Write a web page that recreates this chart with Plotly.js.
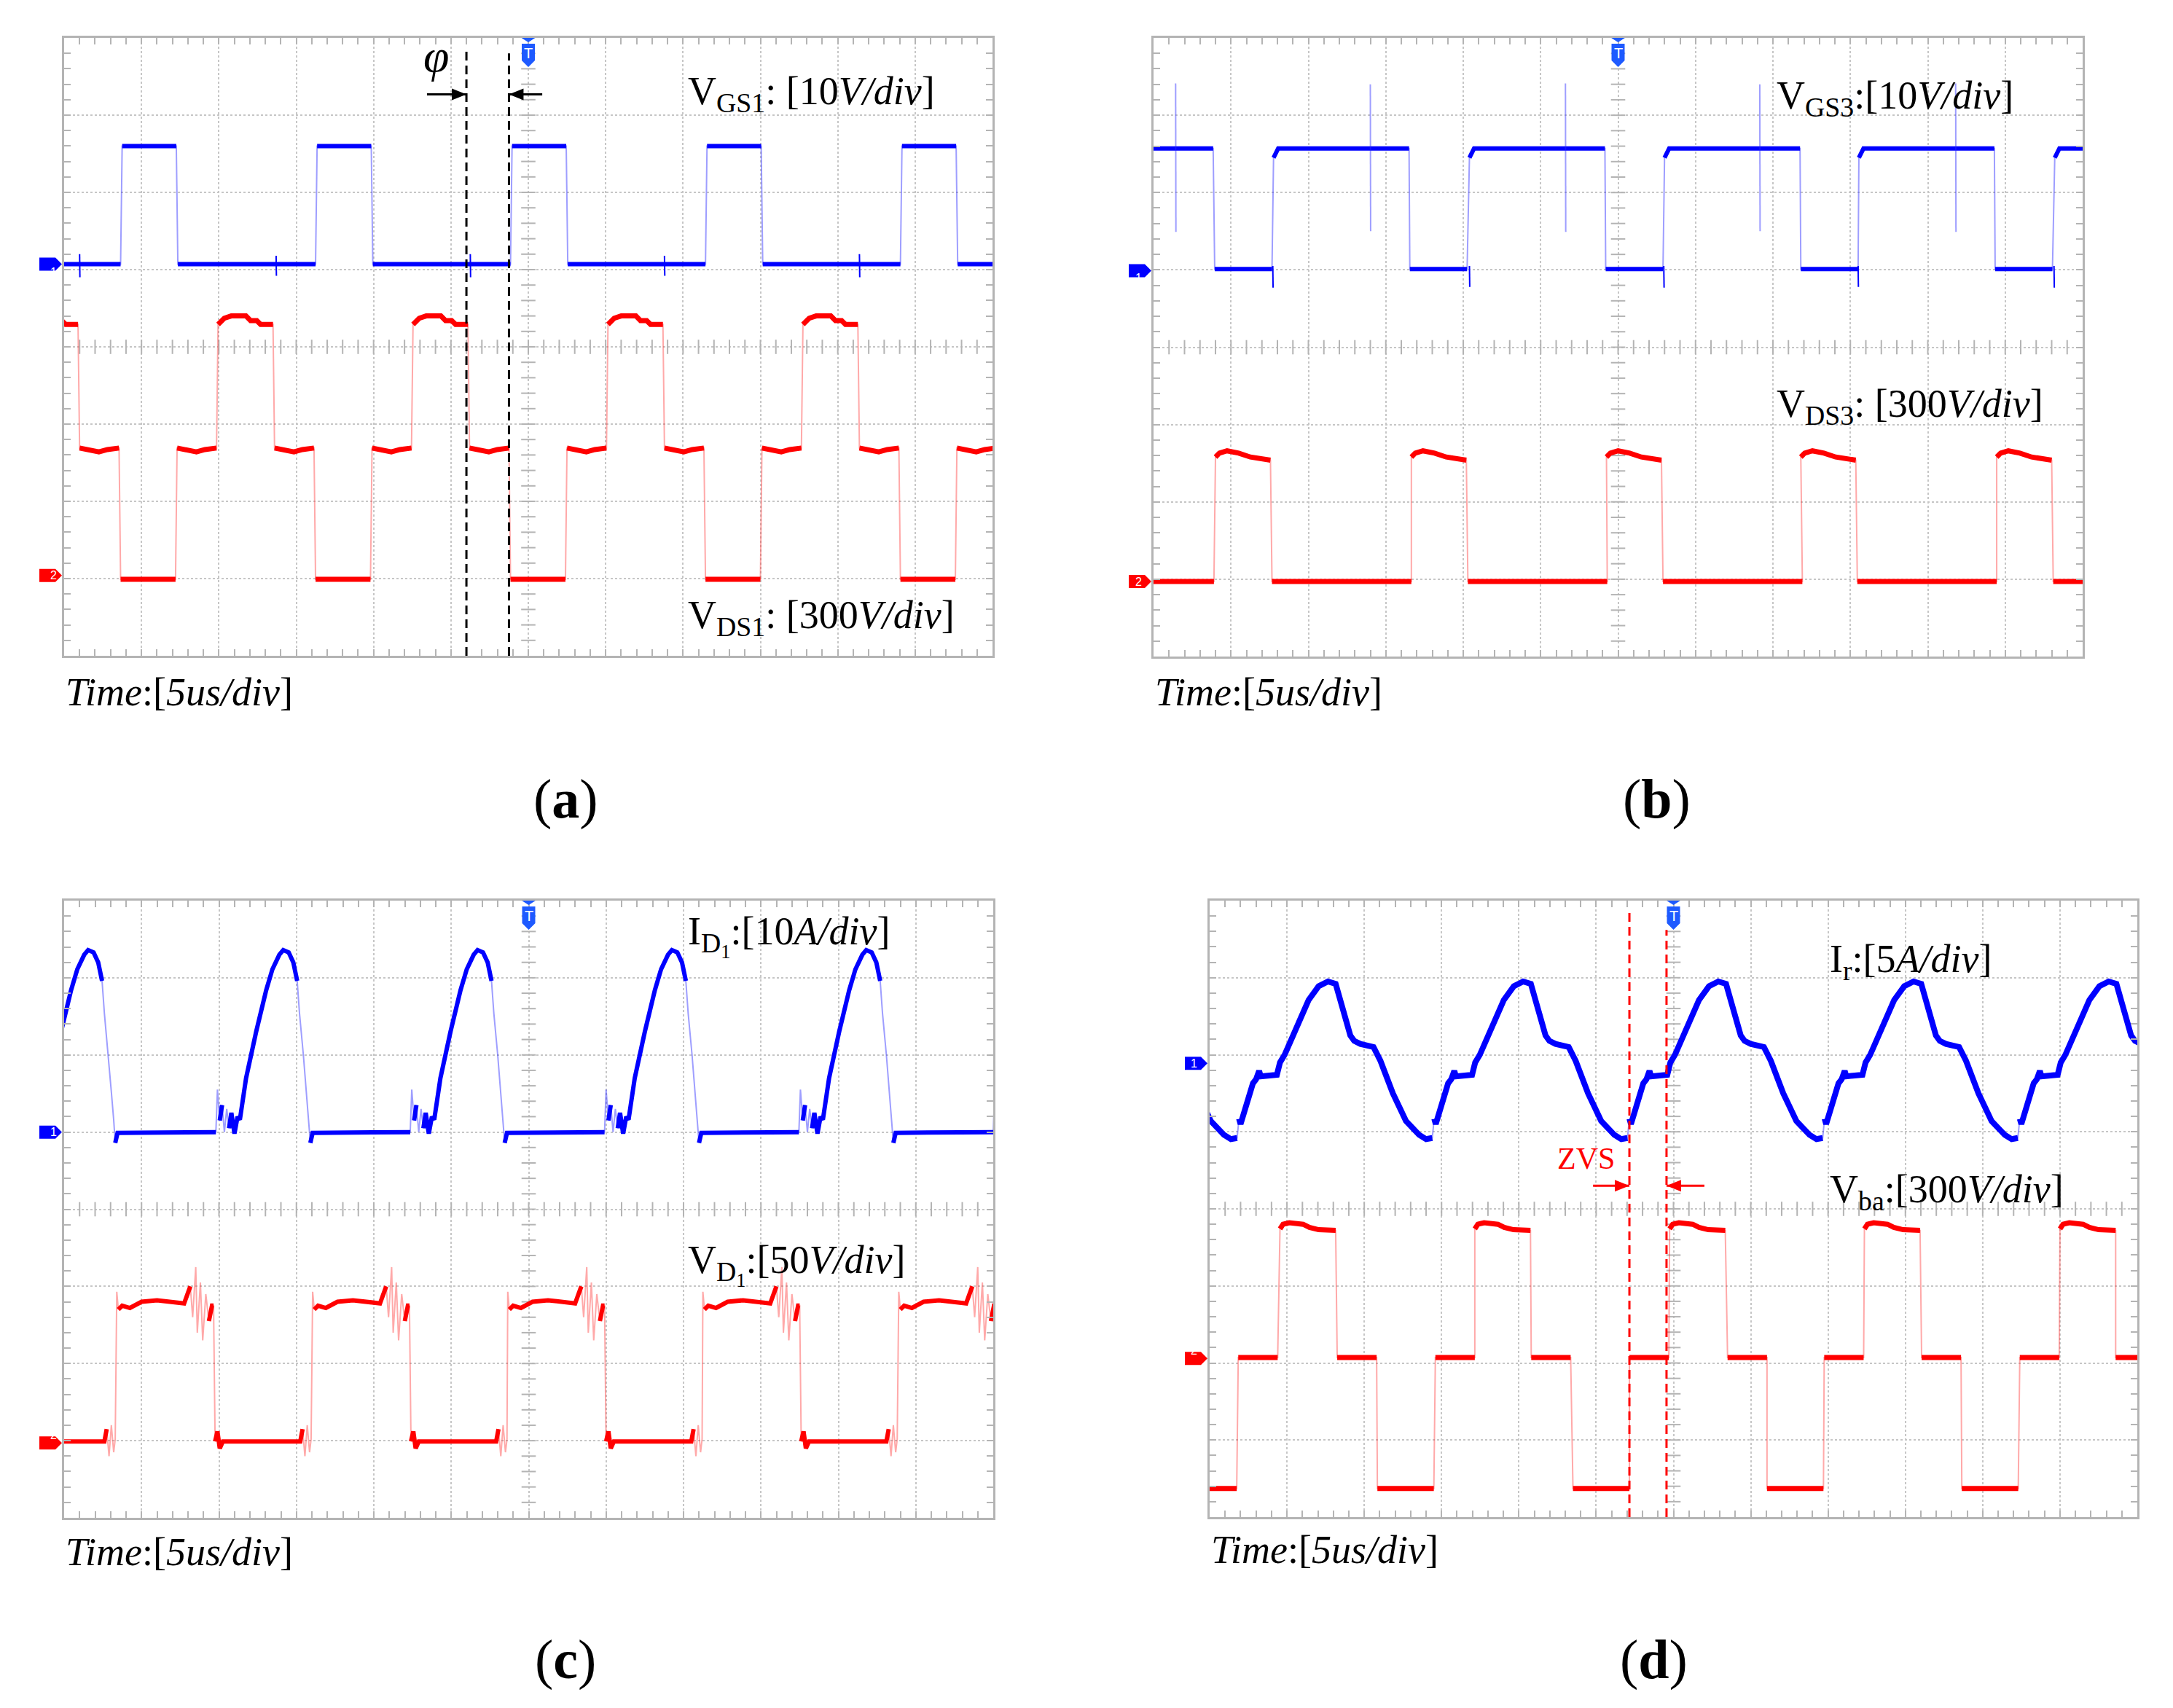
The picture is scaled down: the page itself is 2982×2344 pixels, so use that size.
<!DOCTYPE html>
<html><head><meta charset="utf-8">
<script src="https://cdn.plot.ly/plotly-3.0.1.min.js"></script>
<style>html,body{margin:0;padding:0;background:#fff}</style>
</head><body><div id="chart" style="width:2982px;height:2344px"></div>
<script>
// ===== DATA (x: time in divisions of 5 us; y: screen divisions, 0 = bottom of screen) =====
// (a) V_GS1 : segment kinds / start times / plateau profiles
const aGsKinds  = ['L','H','L','H','L','H','L','H','L','H','L'];
const aGsStarts = [-1.05,0.75,1.47,3.27,3.99,5.79,6.51,8.31,9.03,10.83,11.55];
const aGsHighDt = [0,0.70], aGsHighY = [6.60,6.60];
const aGsLowDt  = [0,1.78], aGsLowY  = [5.07,5.07];
const aGsGlitchT   = [0.20,2.74,5.25,7.76,10.28];
const aGsGlitchTop = [5.20,5.18,5.20,5.18,5.20];
const aGsGlitchBot = [4.90,4.92,4.90,4.92,4.90];
// (a) V_DS1
const aDsKinds  = ['H','M','L','M','H','M','L','M','H','M','L','M','H','M','L','M','H','M','L','M'];
const aDsStarts = [-0.53,0.20,0.73,1.46,1.99,2.72,3.25,3.98,4.51,5.24,5.77,6.50,7.03,7.76,8.29,9.02,9.55,10.28,10.81,11.54];
const aDsHighDt = [0,0.08,0.17,0.36,0.42,0.50,0.55,0.71];
const aDsHighY  = [4.29,4.37,4.40,4.40,4.34,4.34,4.29,4.29];
const aDsMidDt  = [0,0.15,0.25,0.36,0.51];
const aDsMidY   = [2.69,2.66,2.64,2.67,2.69];
const aDsLowDt  = [0,0.71], aDsLowY = [0.99,0.99];
const aPhiLineX   = [5.20,5.75];
const aPhiLineTop = [7.83,7.80];
const aPhiArrowTail = [4.69,6.18];
const aPhiArrowY = 7.27;

// (b) V_GS3
const bGsKinds  = ['H','L','H','L','H','L','H','L','H','L','H'];
const bGsStarts = [-0.98,0.79,1.55,3.31,4.08,5.84,6.60,8.36,9.11,10.87,11.64];
const bGsHighDt = [0,0.06,1.75], bGsHighY = [6.45,6.57,6.57];
const bGsLowDt  = [0,0.74],      bGsLowY  = [5.01,5.01];
const bGsSpikeT = [0.285,2.80,5.32,7.83,10.36];
const bGsSpikeTop = [7.41,7.40,7.41,7.40,7.41];
const bGsSpikeBot = [5.49,5.50,5.49,5.50,5.49];
const bGsDipT   = [1.54,4.08,6.59,9.10,11.63];
const bGsDipBot = [4.77,4.78,4.77,4.78,4.77];
// (b) V_DS3
const bDsKinds  = ['L','H','L','H','L','H','L','H','L','H','L'];
const bDsStarts = [-1.02,0.80,1.53,3.33,4.06,5.85,6.58,8.36,9.09,10.89,11.62];
const bDsHighDt = [0,0.05,0.15,0.30,0.45,0.60,0.71];
const bDsHighY  = [2.58,2.63,2.66,2.63,2.58,2.55,2.54];
const bDsLowDt  = [0,1.80], bDsLowY = [0.97,0.97];

const cIdStarts = [-0.56,1.96,4.47,6.98,9.49,12.0];
const cIdDt = [0,0.02,0.05,0.08,0.11,0.14,0.17,0.20,0.24,0.28,0.31,0.39,0.52,0.65,0.73,0.82,0.87,0.94,1.00,1.05,1.08,1.13,1.17,1.20,1.22,1.25];
const cIdY  = [5.0,5.55,5.15,5.35,5.0,5.3,5.05,5.25,4.98,5.2,5.16,5.70,6.30,6.84,7.11,7.30,7.36,7.33,7.20,6.96,6.54,6.0,5.52,5.16,4.86,4.99];
// (c) V_D1
const cVdKinds  = ['L','H','L','H','L','H','L','H','L','H'];
const cVdStarts = [-0.58,0.67,1.95,3.20,4.48,5.72,7.00,8.24,9.52,10.77];
const cVdHighDt = [0.01,0.03,0.08,0.18,0.33,0.53,0.73,0.88,0.96,0.99,1.03,1.05,1.09,1.12,1.16,1.20,1.24,1.26];
const cVdHighY  = [2.93,2.70,2.75,2.72,2.80,2.82,2.80,2.78,3.0,2.6,3.25,2.4,3.05,2.3,2.9,2.55,2.75,2.75];
const cVdLowDt  = [0,0.03,0.06,0.10,1.10,1.13,1.16,1.19,1.22,1.24];
const cVdLowY   = [0.99,1.12,0.90,0.99,0.99,1.15,0.80,1.20,0.85,1.02];

const dIrJumps = [-2.145,0.38,2.905,5.43,7.955,10.48];
const dIrDt = [0,0.02,0.18,0.22,0.26,0.28,0.49,0.53,0.59,0.77,0.90,1.03,1.15,1.25,1.30,1.36,1.44,1.49,1.57,1.74,1.83,1.99,2.16,2.33,2.42,2.50];
const dIrY  = [5.17,5.10,5.63,5.68,5.79,5.72,5.74,5.90,6.00,6.41,6.71,6.89,6.95,6.92,6.75,6.53,6.25,6.18,6.14,6.10,5.92,5.50,5.14,4.96,4.905,4.92];
// (d) V_ba
const dVbKinds  = ['L','Z','H','Z','L','Z','H','Z','L','Z','H','Z','L','Z','H','Z','L','Z','H','Z'];
const dVbStarts = [-0.38,0.37,0.91,1.65,2.17,2.92,3.43,4.16,4.70,5.43,5.95,6.70,7.21,7.95,8.47,9.21,9.73,10.48,11.00,11.72];
const dVbHighDt = [0,0.04,0.12,0.30,0.38,0.50,0.72];
const dVbHighY  = [3.74,3.80,3.82,3.80,3.76,3.73,3.72];
const dVbZeroDt = [0,0.51], dVbZeroY = [2.07,2.07];
const dVbLowDt  = [0,0.73], dVbLowY  = [0.37,0.37];
const dZvsLineX   = [5.43,5.91];
const dZvsLineTop = [7.84,7.62];
const dZvsArrowTail = [4.96,6.40];
const dZvsArrowY = 4.30;

// channel markers (screen level of "1" and "2") per panel a,b,c,d
const chan1Level = [5.07,4.99,5.00,5.89];
const chan2Level = [1.04,0.97,0.97,2.06];

// ===== helpers =====
function buildSeg(kinds, starts, prof){
  const x=[], y=[];
  kinds.forEach((k,i)=>{ const p=prof[k]; p.dt.forEach((d,j)=>{ x.push(+(starts[i]+d).toFixed(4)); y.push(p.y[j]); }); });
  return {x,y};
}
function buildPeriodic(starts, dt, yv){
  const x=[], y=[];
  starts.forEach(s=>{ dt.forEach((d,j)=>{ x.push(+(s+d).toFixed(4)); y.push(yv[j]); }); });
  return {x,y};
}
function splitSteep(w, thr){
  const ox=[w.x[0]], oy=[w.y[0]];
  for(let i=1;i<w.x.length;i++){
    const dx=Math.abs(w.x[i]-w.x[i-1]), dy=Math.abs(w.y[i]-w.y[i-1]);
    if(dy>thr*dx && dy>0.05){ ox.push(null); oy.push(null); }
    ox.push(w.x[i]); oy.push(w.y[i]);
  }
  return {x:ox,y:oy};
}
function spikes(t, top, bot){
  const x=[], y=[];
  t.forEach((v,i)=>{ x.push(v,v+0.004,null); y.push(top[i],bot[i],null); });
  return {x,y};
}

const BLUE='rgb(0,0,255)', RED='rgb(255,0,0)';
const BLUE_L='rgba(40,40,255,0.45)', RED_L='rgba(255,40,40,0.40)';
const GRID='#c6c6c6', FRAME='#b4b4b4';
const FONT='Liberation Serif';

const axes=[['x','y'],['x2','y2'],['x3','y3'],['x4','y4']];
const traces=[];

// centre-line tick marks (scope graticule)
const cx=[], cy=[];
for(let k=1;k<60;k++){ cx.push(k*0.2); }
for(let k=1;k<40;k++){ cy.push(k*0.2); }
axes.forEach(([xa,ya])=>{
  traces.push({x:cx, y:cx.map(()=>4), xaxis:xa, yaxis:ya, mode:'markers', hoverinfo:'skip',
    marker:{symbol:'line-ns', size:14, line:{width:2,color:FRAME}}});
  traces.push({x:cy.map(()=>6), y:cy, xaxis:xa, yaxis:ya, mode:'markers', hoverinfo:'skip',
    marker:{symbol:'line-ew', size:14, line:{width:2,color:FRAME}}});
});

function addWave(w, xa, ya, col, colL, width, thr){
  traces.push({x:w.x, y:w.y, xaxis:xa, yaxis:ya, mode:'lines', hoverinfo:'skip', line:{color:colL, width:2}});
  const s=splitSteep(w, thr);
  traces.push({x:s.x, y:s.y, xaxis:xa, yaxis:ya, mode:'lines', hoverinfo:'skip', connectgaps:false, line:{color:col, width:width}});
}
function addSpikes(s, xa, ya, col){
  traces.push({x:s.x, y:s.y, xaxis:xa, yaxis:ya, mode:'lines', hoverinfo:'skip', line:{color:col, width:2}});
}

// (a)
addWave(buildSeg(aGsKinds,aGsStarts,{H:{dt:aGsHighDt,y:aGsHighY},L:{dt:aGsLowDt,y:aGsLowY}}),'x','y',BLUE,BLUE_L,6,8);
addSpikes(spikes(aGsGlitchT,aGsGlitchTop,aGsGlitchBot),'x','y',BLUE);
addWave(buildSeg(aDsKinds,aDsStarts,{H:{dt:aDsHighDt,y:aDsHighY},M:{dt:aDsMidDt,y:aDsMidY},L:{dt:aDsLowDt,y:aDsLowY}}),'x','y',RED,RED_L,7,8);
// (b)
addWave(buildSeg(bGsKinds,bGsStarts,{H:{dt:bGsHighDt,y:bGsHighY},L:{dt:bGsLowDt,y:bGsLowY}}),'x2','y2',BLUE,BLUE_L,6,8);
addSpikes(spikes(bGsSpikeT,bGsSpikeTop,bGsSpikeBot),'x2','y2',BLUE_L);
addSpikes(spikes(bGsDipT,bGsDipT.map(()=>5.05),bGsDipBot),'x2','y2',BLUE);
addWave(buildSeg(bDsKinds,bDsStarts,{H:{dt:bDsHighDt,y:bDsHighY},L:{dt:bDsLowDt,y:bDsLowY}}),'x2','y2',RED,RED_L,7,8);
// (c)
addWave(buildPeriodic(cIdStarts,cIdDt,cIdY),'x3','y3',BLUE,BLUE_L,6,8);
addWave(buildSeg(cVdKinds,cVdStarts,{H:{dt:cVdHighDt,y:cVdHighY},L:{dt:cVdLowDt,y:cVdLowY}}),'x3','y3',RED,RED_L,6,8);
// (d)
addWave(buildPeriodic(dIrJumps,dIrDt,dIrY),'x4','y4',BLUE,BLUE_L,8,8);
addWave(buildSeg(dVbKinds,dVbStarts,{H:{dt:dVbHighDt,y:dVbHighY},Z:{dt:dVbZeroDt,y:dVbZeroY},L:{dt:dVbLowDt,y:dVbLowY}}),'x4','y4',RED,RED_L,7,8);

// ===== layout =====
const W=2982, H=2344;
const panelPx = [ // left, right, top, bottom (pixels)
  [88,1362,52,900],[1583,2858,52,901],[88,1363,1236,2083],[1660,2933,1236,2082]];
const layout={width:W,height:H,margin:{l:0,r:0,t:0,b:0},paper_bgcolor:'#fff',plot_bgcolor:'#fff',showlegend:false,
  annotations:[], shapes:[]};
function axisCommon(range, domain, anchor){
  return {range:range, domain:domain, anchor:anchor, fixedrange:true, showgrid:true, gridcolor:GRID, griddash:'dot', gridwidth:2,
    tick0:0, dtick:1, zeroline:false, showline:true, linecolor:FRAME, linewidth:3, mirror:'allticks',
    ticks:'inside', ticklen:9, tickwidth:2, tickcolor:FRAME, showticklabels:false,
    minor:{dtick:0.2, ticks:'inside', ticklen:9, tickwidth:2, tickcolor:FRAME, showgrid:false}};
}
panelPx.forEach((p,i)=>{
  const n = i===0?'':String(i+1);
  layout['xaxis'+n]=axisCommon([0,12],[p[0]/W,p[1]/W],'y'+n);
  layout['yaxis'+n]=axisCommon([0,8],[1-p[3]/H,1-p[2]/H],'x'+n);
});

const ann=layout.annotations, shp=layout.shapes;
function label(xa,ya,x,y,text,size,color){
  ann.push({xref:xa,yref:ya,x:x,y:y,text:text,showarrow:false,xanchor:'left',yanchor:'middle',
    font:{family:FONT,size:size||54,color:color||'#000'}});
}
// signal labels
label('x','y',8.04,7.28,'V<sub>GS1</sub>: [10<i>V/div</i>]');
label('x','y',8.04,0.50,'V<sub>DS1</sub>: [300<i>V/div</i>]');
label('x2','y2',8.03,7.22,'V<sub>GS3</sub>:[10<i>V/div</i>]');
label('x2','y2',8.03,3.24,'V<sub>DS3</sub>: [300<i>V/div</i>]');
label('x3','y3',8.04,7.54,'I<sub>D<sub>1</sub></sub>:[10<i>A/div</i>]');
label('x3','y3',8.04,3.28,'V<sub>D<sub>1</sub></sub>:[50<i>V/div</i>]');
label('x4','y4',8.00,7.21,'I<sub>r</sub>:[5<i>A/div</i>]');
label('x4','y4',8.00,4.22,'V<sub>ba</sub>:[300<i>V/div</i>]');
// time base labels (below each screen)
[[88,950],[1583,950],[88,2130],[1660,2127]].forEach(([px,py])=>{
  ann.push({xref:'paper',yref:'paper',x:px/W,y:1-py/H,text:'<i>Time</i>:[<i>5us/div</i>]',showarrow:false,xanchor:'left',yanchor:'middle',
    font:{family:FONT,size:54,color:'#000'}});
});
// panel letters
[['a',776,1096],['b',2273,1096],['c',776,2277],['d',2269,2277]].forEach(([t,px,py])=>{
  ann.push({xref:'paper',yref:'paper',x:px/W,y:1-py/H,text:'(<b>'+t+'</b>)',showarrow:false,xanchor:'center',yanchor:'middle',
    font:{family:FONT,size:76,color:'#000'}});
});
// channel markers (outside the left frame) + trigger markers
axes.forEach(([xa,ya],i)=>{
  const p=panelPx[i];
  [[chan1Level[i],BLUE,'1'],[chan2Level[i],RED,'2']].forEach(([lv,col,t])=>{
    const py = p[3] - lv*(p[3]-p[2])/8;
    const xp = p[0]/W, yp = 1-py/H;
    shp.push({type:'path',xref:'paper',yref:'paper',xsizemode:'pixel',ysizemode:'pixel',xanchor:xp,yanchor:yp,
      path:'M -34 9 L -12 9 L -3 0 L -12 -9 L -34 -9 Z',fillcolor:col,line:{width:0}});
    ann.push({xref:'paper',yref:'paper',x:xp,y:yp,xshift:-21,text:t,showarrow:false,font:{family:'Liberation Sans',size:16,color:'#fff'}});
  });
  shp.push({type:'path',xref:xa,yref:ya,xsizemode:'pixel',ysizemode:'pixel',xanchor:6,yanchor:8,
    path:'M -11 1 L 11 1 L 0 -6 Z M -9 -8 L 9 -8 L 9 -31 L 0 -40 L -9 -31 Z',fillcolor:'rgb(30,90,255)',line:{width:0}});
  ann.push({xref:xa,yref:ya,x:6,y:8,yshift:-21,text:'T',showarrow:false,font:{family:'Liberation Sans',size:20,color:'#fff'}});
});
// arrows drawn as shapes (shaft + filled head)
function arrow(xa,ya,tail,head,y,col){
  shp.push({type:'line',xref:xa,yref:ya,x0:tail,x1:head,y0:y,y1:y,line:{color:col,width:3}});
  const dir = head>tail ? 1 : -1;
  shp.push({type:'path',xref:xa,yref:ya,xsizemode:'pixel',ysizemode:'pixel',xanchor:head,yanchor:y,
    path: dir>0 ? 'M 0 0 L -20 8 L -20 -8 Z' : 'M 0 0 L 20 8 L 20 -8 Z', fillcolor:col, line:{width:0}});
}
// (a) phase-shift marks
aPhiLineX.forEach((x,i)=>{
  shp.push({type:'line',xref:'x',yref:'y',x0:x,x1:x,y0:0,y1:aPhiLineTop[i],line:{color:'#000',width:3,dash:'12px,7px'}});
  arrow('x','y',aPhiArrowTail[i],x,aPhiArrowY,'#000');
});
ann.push({xref:'x',yref:'y',x:4.81,y:7.77,text:'<i>φ</i>',showarrow:false,font:{family:FONT,size:64,color:'#000'}});
// (d) ZVS marks
dZvsLineX.forEach((x,i)=>{
  shp.push({type:'line',xref:'x4',yref:'y4',x0:x,x1:x,y0:0,y1:dZvsLineTop[i],line:{color:RED,width:3,dash:'12px,7px'}});
  arrow('x4','y4',dZvsArrowTail[i],x,dZvsArrowY,RED);
});
ann.push({xref:'x4',yref:'y4',x:4.87,y:4.65,text:'ZVS',showarrow:false,font:{family:FONT,size:42,color:RED}});

Plotly.newPlot('chart',traces,layout,{staticPlot:true,displayModeBar:false});
</script></body></html>
